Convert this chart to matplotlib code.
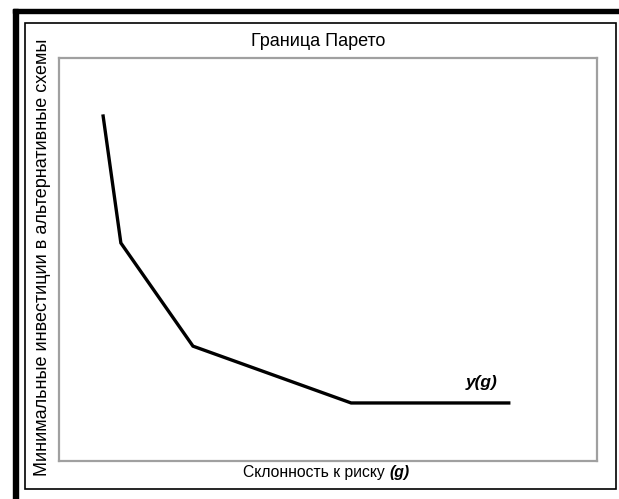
import matplotlib
matplotlib.use("Agg")
import matplotlib.pyplot as plt
from matplotlib.patches import Rectangle

plt.rcParams['font.family'] = ['Liberation Sans', 'DejaVu Sans']

# Pareto frontier points (risk propensity g, minimal investment)
g_values = [0.82, 1.15, 2.49, 5.43, 8.36]
y_values = [8.56, 5.41, 2.85, 1.44, 1.44]

title_text = "Граница Парето"
x_label = "Склонность к риску "
x_label_sym = "(g)"
y_label = "Минимальные инвестиции в альтернативные схемы"
curve_label = "y(g)"

W, H = 619, 499
fig = plt.figure(figsize=(W / 100, H / 100), dpi=100)

# outer decorative frame: thick bars top/left and thin box
fig.patches.append(Rectangle((13 / W, 1 - 13 / H), (W - 13) / W, 4 / H,
                             transform=fig.transFigure, color='black', zorder=0))
fig.patches.append(Rectangle((13 / W, 0), 5 / W, 1 - 9 / H,
                             transform=fig.transFigure, color='black', zorder=0))
fig.patches.append(Rectangle((25 / W, 1 - 489 / H), (616 - 25) / W, (489 - 23) / H,
                             transform=fig.transFigure, fill=False,
                             edgecolor='black', linewidth=1.2, zorder=0))

ax = fig.add_axes([59 / W, 1 - 461 / H, 538 / W, 403 / H])
ax.plot(g_values, y_values, color='black', linewidth=2.4, solid_joinstyle='miter')
ax.set_xlim(0, 10)
ax.set_ylim(0, 10)
ax.set_xticks([])
ax.set_yticks([])
for s in ax.spines.values():
    s.set_color('#a0a0a0')
    s.set_linewidth(1.6)

ax.text(7.85, 1.95, curve_label, fontsize=12.5, fontweight='bold', fontstyle='italic',
        ha='center', va='center')

fig.text(318 / W, 1 - 41 / H, title_text, fontsize=13, ha='center', va='center')
fig.text(43 / W, 1 - 257 / H, y_label, fontsize=13, rotation=90,
         ha='center', va='center')
fig.text(389 / W, 1 - 473 / H, x_label, fontsize=11.3, ha='right', va='center')
fig.text(389 / W, 1 - 473 / H, x_label_sym, fontsize=11.3, fontweight='bold',
         fontstyle='italic', ha='left', va='center')

fig.savefig("out.png", dpi=100)
